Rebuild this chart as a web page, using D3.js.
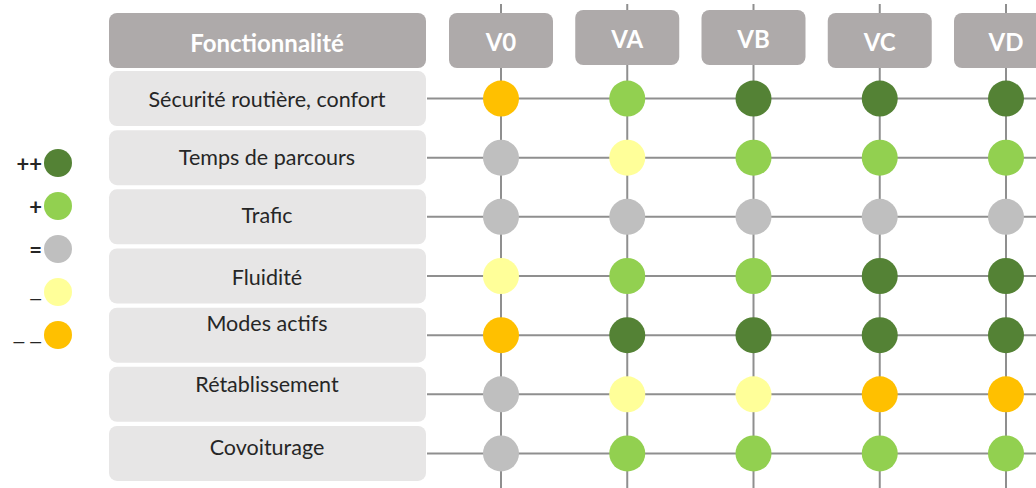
<!DOCTYPE html>
<html><head><meta charset="utf-8">
<script src="https://cdn.jsdelivr.net/npm/d3@7"></script>
<style>html,body{margin:0;padding:0;background:#fff;}svg{display:block;}</style>
</head><body>
<svg id="chart" width="1036" height="488"></svg>
<script>
// ---- data ----
const headerTitle = "Fonctionnalité";
const features = ["Sécurité routière, confort","Temps de parcours","Trafic","Fluidité","Modes actifs","Rétablissement","Covoiturage"];
const variants = ["V0","VA","VB","VC","VD"];
// levels: 2 = ++, 1 = +, 0 = =, -1 = −, -2 = −−
const scoresV0 = [-2, 0, 0, -1, -2, 0, 0];
const scoresVA = [1, -1, 0, 1, 2, -1, 1];
const scoresVB = [2, 1, 0, 1, 2, -1, 1];
const scoresVC = [2, 1, 0, 2, 2, -2, 1];
const scoresVD = [2, 1, 0, 2, 2, -2, 1];
const legendLevels = [2, 1, 0, -1, -2];
const legendSymbols = ["++", "+", "=", "—", "— —"];
const levelColors = ["#FFC000", "#FFFF99", "#BFBFBF", "#92D050", "#548235"];
// layout tweaks (not data)
const labelDy = [0, -1, -2, 1, -12, -10, -6];
const legendLabelDy = [0, 0, 0, 5, 5];
const legendFontSize = [22, 22, 22, 16, 16];

const allScores = [scoresV0, scoresVA, scoresVB, scoresVC, scoresVD];
const svg = d3.select("#chart");
const font = "Lato, 'Open Sans', sans-serif";

const y = d3.scaleBand().domain(features).range([69, 483]).paddingInner(0.07).paddingOuter(0.035);
const x = d3.scalePoint().domain(variants).range([501, 1006]);
const color = d3.scaleOrdinal().domain([-2, -1, 0, 1, 2]).range(levelColors);
const yLeg = d3.scalePoint().domain(legendLevels).range([163, 335]);

// grid lines
svg.append("g").selectAll("line").data(variants).join("line")
  .attr("x1", d => x(d)).attr("x2", d => x(d)).attr("y1", 4).attr("y2", 488)
  .attr("stroke", "#8f8f8f").attr("stroke-width", 2);
svg.append("g").selectAll("line").data(features).join("line")
  .attr("x1", 427).attr("x2", 1036)
  .attr("y1", d => y(d) + y.bandwidth() / 2).attr("y2", d => y(d) + y.bandwidth() / 2)
  .attr("stroke", "#8f8f8f").attr("stroke-width", 2);

// header
svg.append("rect").attr("x", 109).attr("y", 13).attr("width", 317).attr("height", 55)
  .attr("rx", 8).attr("fill", "#AEAAAA");
svg.append("text").attr("x", 267).attr("y", 42).attr("text-anchor", "middle")
  .attr("dominant-baseline", "central").attr("font-family", font).attr("font-weight", "bold")
  .attr("font-size", 24).attr("fill", "#fff").text(headerTitle);

// column headers
const colDy = [0, -3, -3, 0, 0];
const colG = svg.append("g").selectAll("g").data(variants).join("g");
colG.append("rect").attr("x", d => x(d) - 52).attr("y", (d, i) => 13 + colDy[i])
  .attr("width", 104).attr("height", 55).attr("rx", 8).attr("fill", "#AEAAAA");
colG.append("text").attr("x", d => x(d)).attr("y", (d, i) => 41 + colDy[i])
  .attr("text-anchor", "middle").attr("dominant-baseline", "central")
  .attr("font-family", font).attr("font-weight", "bold").attr("font-size", 24)
  .attr("fill", "#fff").text(d => d);

// row label boxes
const rowG = svg.append("g").selectAll("g").data(features).join("g");
rowG.append("rect").attr("x", 109).attr("y", d => y(d)).attr("width", 317)
  .attr("height", y.bandwidth()).attr("rx", 8).attr("fill", "#E7E6E6");
rowG.append("text").attr("x", 267).attr("y", (d, i) => y(d) + y.bandwidth() / 2 + labelDy[i])
  .attr("text-anchor", "middle").attr("dominant-baseline", "central")
  .attr("font-family", font).attr("font-size", 21.5).attr("fill", "#262626").text(d => d);

// dots
const cells = [];
variants.forEach((v, j) => features.forEach((f, i) => cells.push({v, f, s: allScores[j][i]})));
svg.append("g").selectAll("circle").data(cells).join("circle")
  .attr("cx", d => x(d.v)).attr("cy", d => y(d.f) + y.bandwidth() / 2).attr("r", 18)
  .attr("fill", d => color(d.s));

// legend
svg.append("g").selectAll("circle").data(legendLevels).join("circle")
  .attr("cx", 58).attr("cy", d => yLeg(d)).attr("r", 14).attr("fill", d => color(d));
svg.append("g").selectAll("text").data(legendLevels).join("text")
  .attr("x", 42).attr("y", (d, i) => yLeg(d) + legendLabelDy[i])
  .attr("text-anchor", "end").attr("dominant-baseline", "central")
  .attr("font-family", font).attr("font-weight", "bold").attr("font-size", (d, i) => legendFontSize[i])
  .attr("fill", "#262626").text((d, i) => legendSymbols[i]);
</script>
</body></html>
